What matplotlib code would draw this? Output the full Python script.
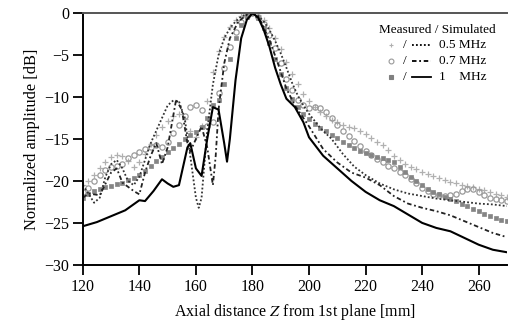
import numpy as np
import matplotlib
matplotlib.use('Agg')
import matplotlib.pyplot as plt

plt.rcParams['font.family'] = ['Liberation Serif', 'DejaVu Serif']
plt.rcParams['mathtext.fontset'] = 'stix'

# measured data, sampled every 2 mm from 120 to 270 mm
z_meas = np.arange(120, 271, 2)
meas_05 = [-20.5, -20.0, -19.3, -18.5, -17.8, -17.2, -16.9, -17.0, -17.6, -18.3,
           -17.8, -16.8, -15.6, -14.5, -13.6, -12.8, -12.2, -12.0, -12.6, -14.0,
           -14.8, -13.5, -10.5, -7.0, -4.5, -2.8, -1.6, -0.8, -0.3, -0.05,
           0.0, -0.2, -0.8, -1.8, -3.0, -4.3, -5.8, -7.2, -8.5, -9.6,
           -10.5, -11.2, -11.8, -12.3, -12.7, -13.0, -13.3, -13.6, -13.7, -14.0,
           -14.4, -14.9, -15.3, -15.7, -16.3, -17.0, -17.5, -18.0, -18.3, -18.6,
           -18.9, -19.2, -19.4, -19.6, -19.9, -20.1, -20.3, -20.5, -20.6, -20.7,
           -20.9, -21.1, -21.3, -21.5, -21.7, -21.9]
meas_07 = [-21.3, -20.8, -20.0, -19.3, -18.7, -18.3, -18.2, -18.0, -17.3, -16.9,
           -16.6, -16.2, -15.9, -15.7, -15.9, -15.3, -14.3, -13.3, -12.2, -11.2,
           -10.9, -11.5, -13.5, -13.0, -9.5, -6.5, -4.0, -2.2, -1.0, -0.3,
           0.0, -0.4, -1.3, -2.6, -4.2, -6.0, -7.8, -9.2, -10.3, -11.0,
           -11.3, -11.2, -11.3, -11.8, -12.5, -13.3, -14.0, -14.6, -15.2, -15.8,
           -16.4, -16.9, -17.4, -17.8, -18.2, -18.5, -18.9, -19.3, -19.8, -20.3,
           -20.8, -21.2, -21.5, -21.7, -21.8, -21.7, -21.5, -21.2, -21.0, -21.0,
           -21.3, -21.7, -22.0, -22.2, -22.3, -22.4]
meas_10 = [-22.0, -21.6, -21.2, -20.9, -20.7, -20.6, -20.4, -20.2, -19.9, -19.6,
           -19.3, -18.8, -18.2, -17.6, -17.1, -16.6, -16.1, -15.6, -15.0, -14.5,
           -14.2, -13.6, -12.5, -11.0, -10.3, -8.5, -5.5, -3.0, -1.4, -0.4,
           0.0, -0.6, -1.8, -3.5, -5.5, -7.3, -8.9, -10.2, -11.2, -12.0,
           -12.6, -13.2, -13.7, -14.1, -14.5, -14.9, -15.3, -15.7, -16.1, -16.4,
           -16.7, -16.9, -17.1, -17.3, -17.5, -17.8, -18.3, -18.9, -19.5, -20.0,
           -20.5, -20.9, -21.3, -21.6, -21.9, -22.1, -22.4, -22.7, -23.0, -23.3,
           -23.6, -23.9, -24.2, -24.4, -24.6, -24.8]

# simulated curves
z_s05 = [120, 122, 124, 126, 128, 130, 132, 134, 136, 138, 140, 142, 144, 146, 148, 150,
         152, 154, 156, 158, 160, 161, 162, 164, 166, 168, 170, 172, 174, 176, 178, 180,
         182, 184, 186, 188, 190, 192, 194, 196, 198, 200, 204, 208, 212, 216, 220, 225,
         230, 235, 240, 245, 250, 255, 260, 265, 270]
sim_05 = [-20.5, -21.5, -22.6, -22.0, -19.5, -18.0, -17.5, -18.5, -20.0, -20.5, -19.5, -17.5,
          -15.5, -14.0, -12.5, -11.0, -10.4, -10.5, -12.5, -17.0, -22.0, -23.2, -22.0, -14.0,
          -8.5, -5.0, -3.0, -1.8, -1.0, -0.4, -0.1, 0.0, -0.3, -1.0, -2.0, -3.3, -4.8, -6.5,
          -8.3, -9.8, -11.0, -12.0, -13.7, -15.0, -16.8, -18.3, -19.3, -20.3, -21.0, -21.5,
          -21.8, -22.1, -22.3, -22.5, -22.7, -22.8, -23.0]
z_s07 = [120, 122, 126, 130, 132, 134, 138, 140, 142, 144, 146, 148, 150, 153, 155, 157,
         158, 160, 162, 164, 166, 167, 168, 170, 172, 175, 178, 180, 183, 186, 189, 192,
         195, 198, 200, 205, 210, 215, 220, 225, 230, 235, 240, 245, 250, 255, 260, 265, 270]
sim_07 = [-22.0, -21.5, -21.7, -19.0, -18.5, -20.2, -21.2, -21.6, -19.0, -17.0, -15.5, -18.0,
          -16.0, -10.3, -11.5, -15.5, -16.5, -15.0, -13.5, -16.0, -20.5, -17.0, -11.5, -6.0,
          -3.0, -1.0, -0.2, 0.0, -1.0, -3.2, -6.0, -9.0, -11.0, -12.5, -13.5, -16.2, -17.8,
          -19.0, -19.6, -20.5, -21.8, -22.7, -23.2, -23.6, -24.1, -24.8, -25.5, -26.2, -26.7]
z_s10 = [120, 125, 130, 135, 140, 142, 145, 148, 150, 152, 154, 156, 157, 158, 160, 162,
         164, 166, 168, 170, 171, 172, 174, 176, 178, 180, 182, 184, 186, 188, 190, 192,
         195, 198, 200, 205, 210, 215, 220, 225, 230, 235, 240, 245, 250, 255, 260, 265, 270]
sim_10 = [-25.4, -24.9, -24.2, -23.5, -22.3, -22.4, -21.2, -19.8, -20.3, -20.7, -20.5, -17.5,
          -16.0, -15.5, -18.5, -19.4, -15.0, -11.2, -11.5, -15.5, -17.7, -15.0, -8.0, -3.0,
          -0.8, 0.0, -0.5, -2.0, -4.0, -6.5, -8.5, -10.2, -11.2, -13.0, -14.8, -17.0, -18.5,
          -20.0, -21.3, -22.3, -23.0, -24.0, -25.0, -25.6, -26.0, -26.8, -27.6, -28.2, -28.5]

freq_labels = ['0.5 MHz', '0.7 MHz', '1    MHz']

fig = plt.figure(figsize=(5.08, 3.29), dpi=100)
ax = fig.add_axes([0.163, 0.195, 0.835, 0.765])

ax.plot(z_meas, meas_05, ls='none', marker='+', ms=4.5, mew=0.9, color='#b0b0b0')
ax.plot(z_meas, meas_07, ls='none', marker='o', ms=3.8, mew=0.9, mfc='none', color='#999999')
ax.plot(z_meas, meas_10, ls='none', marker='s', ms=3, mew=0.5, color='#858585')

ax.plot(z_s05, sim_05, color='#333333', ls=(0, (1, 1.2)), lw=1.3)
ax.plot(z_s07, sim_07, color='#222222', ls=(0, (2.5, 1.5, 1, 1.5)), lw=1.3)
ax.plot(z_s10, sim_10, color='black', ls='-', lw=1.5)

# legend drawn by hand: marker / line  label
ax.text(0.974, 0.933, 'Measured / Simulated', transform=ax.transAxes, fontsize=9.5,
        ha='right', va='center')
styles = [('+', 'none', '#b0b0b0', (0, (1, 1.2))),
          ('o', 'none', '#999999', (0, (2.5, 1.5, 1, 1.5))),
          ('s', '#808080', '#808080', '-')]
for i, (mk, mfc, mc, ls) in enumerate(styles):
    yy = 0.873 - i * 0.064
    ax.plot([0.727], [yy], marker=mk, ms=3.5, mfc=mfc, mec=mc, mew=0.8,
            color=mc, transform=ax.transAxes)
    ax.text(0.758, yy, '/', transform=ax.transAxes, fontsize=9.5, ha='center', va='center')
    ax.plot([0.777, 0.82], [yy, yy], color='black', ls=ls, lw=1.3,
            transform=ax.transAxes)
    ax.text(0.84, yy, freq_labels[i], transform=ax.transAxes, fontsize=9.5, va='center')

ax.set_xlim(120, 270)
ax.set_ylim(-30, 0)
ax.set_xticks(np.arange(120, 261, 20))
ax.set_yticks(np.arange(-30, 1, 5))
ax.tick_params(direction='out', length=7, width=1.3, labelsize=11.5, pad=3)
ax.spines['right'].set_visible(False)
for s in ['top', 'left', 'bottom']:
    ax.spines[s].set_linewidth(1.4)
ax.spines['top'].set_color('#555555')
ax.set_xlabel('Axial distance $Z$ from 1st plane [mm]', fontsize=11.5, labelpad=5)
ax.set_ylabel('Normalized amplitude [dB]', fontsize=11.8, labelpad=3)

fig.savefig('out.png', dpi=100)
